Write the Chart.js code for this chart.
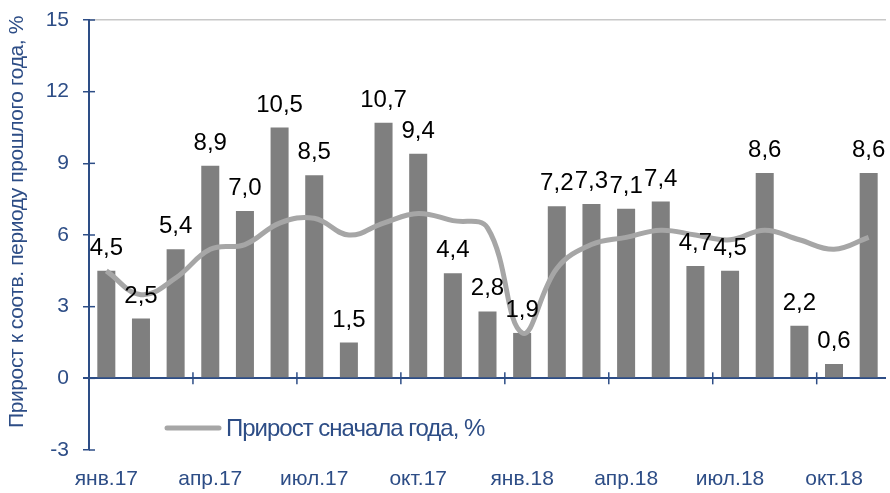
<!DOCTYPE html>
<html>
<head>
<meta charset="utf-8">
<script src="https://cdn.jsdelivr.net/npm/chart.js@4.4.0/dist/chart.umd.min.js"></script>
<style>
  html, body { margin: 0; padding: 0; background: #fff; }
  #wrap { width: 890px; height: 493px; position: relative; }
</style>
</head>
<body>
<div id="wrap"><canvas id="chart"></canvas></div>
<script>
// months Jan 2017 .. Nov 2018
const months = [
  "янв.17", "фев.17", "мар.17", "апр.17", "май.17", "июн.17",
  "июл.17", "авг.17", "сен.17", "окт.17", "ноя.17", "дек.17",
  "янв.18", "фев.18", "мар.18", "апр.18", "май.18", "июн.18",
  "июл.18", "авг.18", "сен.18", "окт.18", "ноя.18"
];

// growth vs same period of previous year, %
const yoyGrowth = [
  4.5, 2.5, 5.4, 8.9, 7.0, 10.5, 8.5, 1.5, 10.7, 9.4, 4.4, 2.8,
  1.9, 7.2, 7.3, 7.1, 7.4, 4.7, 4.5, 8.6, 2.2, 0.6, 8.6
];

// growth since start of year, %
const ytdGrowth = [
  4.5, 3.5, 4.2, 5.4, 5.6, 6.5, 6.7, 6.0, 6.5, 6.9, 6.6, 6.3,
  1.9, 4.6, 5.6, 5.9, 6.2, 6.0, 5.8, 6.2, 5.8, 5.4, 5.9
];

const yTicks = [-3, 0, 3, 6, 9, 12, 15];
const yTitle = "Прирост к соотв. периоду прошлого года, %";

const axisBlue = "#2d4d86";
const barGray = "#7f7f7f";
const lineGray = "#a6a6a6";
const fontFamily = "'Liberation Sans', Arial, sans-serif";

// value labels over bars, "4,5" style
const barLabels = {
  id: "barLabels",
  afterDatasetsDraw(chart) {
    const ctx = chart.ctx;
    const meta = chart.getDatasetMeta(0);
    ctx.save();
    ctx.font = "24px " + fontFamily;
    ctx.fillStyle = "#000";
    ctx.textAlign = "center";
    ctx.textBaseline = "alphabetic";
    meta.data.forEach((bar, i) => {
      const txt = yoyGrowth[i].toFixed(1).replace(".", ",");
      ctx.fillText(txt, bar.x, bar.y - 16);
    });
    ctx.restore();
  }
};

// tick marks crossing the axes, axis title, legend inside the plot
const axisExtras = {
  id: "axisExtras",
  afterDatasetsDraw(chart) {
    const ctx = chart.ctx;
    const xs = chart.scales.x;
    const ys = chart.scales.y;
    const y0 = ys.getPixelForValue(0);
    const slot = xs.getPixelForValue(1) - xs.getPixelForValue(0);
    ctx.save();
    ctx.strokeStyle = axisBlue;
    ctx.lineWidth = 1.5;
    // inner half of y ticks
    yTicks.forEach(v => {
      const py = ys.getPixelForValue(v);
      ctx.beginPath();
      ctx.moveTo(xs.left, py);
      ctx.lineTo(xs.left + 6, py);
      ctx.stroke();
    });
    // x ticks on the zero line, every quarter
    for (let i = 3; i < months.length; i += 3) {
      const px = xs.getPixelForValue(i) - slot / 2;
      ctx.beginPath();
      ctx.moveTo(px, y0 - 6);
      ctx.lineTo(px, y0 + 6);
      ctx.stroke();
    }
    // y axis title, condensed like the original
    ctx.save();
    ctx.translate(17, 222);
    ctx.rotate(-Math.PI / 2);
    ctx.fillStyle = axisBlue;
    ctx.font = "21px " + fontFamily;
    ctx.letterSpacing = "-0.4px";
    ctx.textAlign = "center";
    ctx.textBaseline = "middle";
    ctx.fillText(yTitle, 0, 0);
    ctx.restore();
    // legend
    const ly = 428;
    ctx.strokeStyle = lineGray;
    ctx.lineWidth = 5;
    ctx.lineCap = "round";
    ctx.beginPath();
    ctx.moveTo(167, ly);
    ctx.lineTo(219, ly);
    ctx.stroke();
    ctx.fillStyle = axisBlue;
    ctx.font = "24px " + fontFamily;
    ctx.letterSpacing = "-1px";
    ctx.textBaseline = "middle";
    ctx.textAlign = "left";
    ctx.fillText(chart.data.datasets[1].label, 226, ly + 1);
    ctx.restore();
  }
};

new Chart(document.getElementById("chart"), {
  data: {
    labels: months,
    datasets: [
      {
        type: "bar",
        label: yTitle,
        data: yoyGrowth,
        backgroundColor: barGray,
        barPercentage: 0.52,
        categoryPercentage: 1,
        order: 2
      },
      {
        type: "line",
        label: "Прирост сначала года, %",
        data: ytdGrowth,
        borderColor: lineGray,
        borderWidth: 5,
        pointRadius: 0,
        tension: 0.4,
        order: 1
      }
    ]
  },
  options: {
    responsive: true,
    maintainAspectRatio: false,
    animation: false,
    layout: { padding: { top: 20, right: 4, left: 0, bottom: 0 } },
    plugins: {
      legend: { display: false },
      tooltip: { enabled: false }
    },
    scales: {
      x: {
        offset: true,
        grid: { display: false, drawTicks: false },
        border: { display: false },
        ticks: {
          autoSkip: false,
          maxRotation: 0,
          padding: 17,
          color: axisBlue,
          font: { family: fontFamily, size: 21 },
          callback: (v, i) => (i % 3 === 0 ? months[i] : "")
        },
        afterFit: s => { s.height = 43; }
      },
      y: {
        min: -3,
        max: 15,
        ticks: {
          stepSize: 3,
          padding: 14,
          color: axisBlue,
          font: { family: fontFamily, size: 21 }
        },
        border: { color: axisBlue, width: 2 },
        grid: {
          color: c => (c.tick.value === 15 ? "#c8c8c8" : c.tick.value === 0 ? axisBlue : "rgba(0,0,0,0)"),
          lineWidth: c => (c.tick.value === 0 ? 2 : 1.5),
          tickColor: axisBlue,
          tickLength: 6
        },
        afterFit: s => {
          s.width = 89;
          s.paddingTop = 0;
          s.paddingBottom = 0;
        }
      }
    }
  },
  plugins: [barLabels, axisExtras]
});
</script>
</body>
</html>
